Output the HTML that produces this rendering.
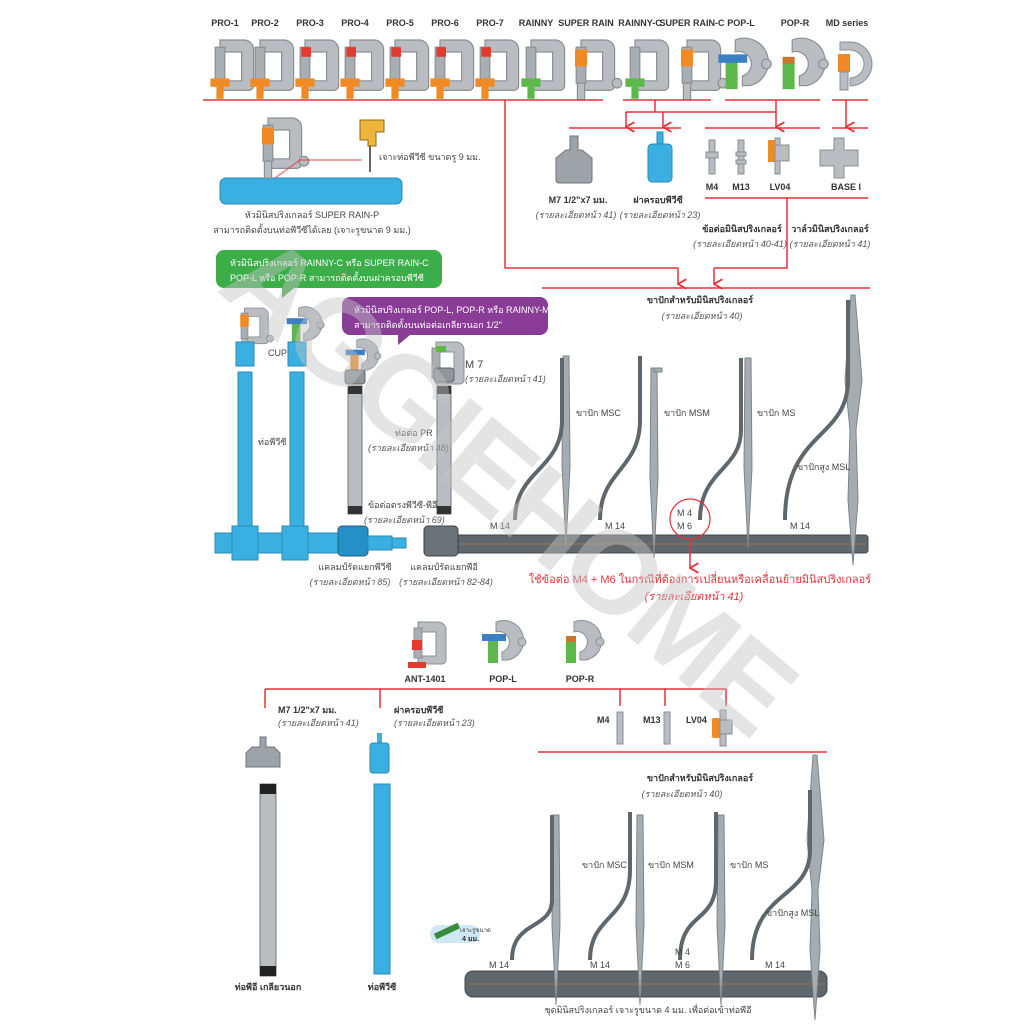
<!DOCTYPE html>
<html><head><meta charset="utf-8"><style>
html,body{margin:0;padding:0;background:#fff}
svg{display:block}
text{font-family:"Liberation Sans","Noto Sans CJK SC",sans-serif}
.l{font-size:9px;font-weight:bold;fill:#333}
.t{font-size:9px;fill:#444}
.i{font-size:9px;fill:#555;font-style:italic}
.r{stroke:#e8313a;stroke-width:1.5;fill:none}
</style></head><body>
<svg width="1024" height="1024" viewBox="0 0 1024 1024" xmlns="http://www.w3.org/2000/svg">
<defs>
<g id="hd">
<path d="M-10,0 h20 a8,8 0 0 1 8,8 v30 a4,4 0 0 1 -4,4 h-24 v-8 h18 v-24 h-18 z" fill="#b9bdc1" stroke="#8b9094" stroke-width="1"/>
<rect x="-14" y="6" width="8" height="30" fill="#a9aeb2" stroke="#8b9094"/>
</g>
<g id="pro"><use href="#hd"/><rect x="-18" y="32" width="16" height="7" fill="#f08a24"/><rect x="-13" y="39" width="6" height="10" fill="#f08a24"/></g>
<g id="grn"><use href="#hd"/><rect x="-18" y="32" width="16" height="7" fill="#5cb84a"/><rect x="-13" y="39" width="6" height="10" fill="#5cb84a"/></g>
<g id="sr"><use href="#hd"/><circle cx="20" cy="36" r="4" fill="#b9bdc1" stroke="#8b9094"/><rect x="-15" y="8" width="10" height="14" fill="#f08a24"/><rect x="-13" y="36" width="6" height="14" fill="#b9bdc1" stroke="#8b9094"/></g>
<g id="pop"><path d="M-4,0 a20,20 0 1 1 12,38 h-6 v-8 a10,10 0 1 0 -6,-20 z" fill="#b9bdc1" stroke="#8b9094"/><circle cx="22" cy="20" r="4" fill="#b9bdc1" stroke="#8b9094"/><rect x="-12" y="17" width="10" height="24" fill="#5cb84a"/></g>
<marker id="ar" viewBox="0 0 10 10" refX="5" refY="9" markerWidth="8" markerHeight="8" orient="auto-start-reverse"><path d="M1,2 L5,9 L9,2" fill="none" stroke="#e8313a" stroke-width="1.5"/></marker>
<g id="stk"><polygon points="-3,0 3,0 4,110 0,190 -4,110" fill="#a6adb2" stroke="#7d858a" stroke-width="1"/></g>
</defs>

<!-- top labels -->
<g class="l" text-anchor="middle" font-size="8.5">
<text x="225" y="26">PRO-1</text><text x="265" y="26">PRO-2</text><text x="310" y="26">PRO-3</text><text x="355" y="26">PRO-4</text><text x="400" y="26">PRO-5</text><text x="445" y="26">PRO-6</text><text x="490" y="26">PRO-7</text><text x="536" y="26">RAINNY</text><text x="586" y="26">SUPER RAIN</text><text x="640" y="26">RAINNY-C</text><text x="692" y="26">SUPER RAIN-C</text><text x="741" y="26">POP-L</text><text x="795" y="26">POP-R</text><text x="847" y="26">MD series</text>
</g>
<!-- heads top row -->
<g>
<use href="#pro" transform="translate(232,40) scale(1.2)"/>
<g transform="translate(272,40) scale(1.2)"><use href="#pro"/></g>
<g transform="translate(317,40) scale(1.2)"><use href="#pro"/><rect x="-13" y="6" width="8" height="8" fill="#e23a2e"/></g>
<g transform="translate(362,40) scale(1.2)"><use href="#pro"/><rect x="-13" y="6" width="8" height="8" fill="#e23a2e"/></g>
<g transform="translate(407,40) scale(1.2)"><use href="#pro"/><rect x="-13" y="6" width="8" height="8" fill="#e23a2e"/></g>
<g transform="translate(452,40) scale(1.2)"><use href="#pro"/><rect x="-13" y="6" width="8" height="8" fill="#e23a2e"/></g>
<g transform="translate(497,40) scale(1.2)"><use href="#pro"/><rect x="-13" y="6" width="8" height="8" fill="#e23a2e"/></g>
<use href="#grn" transform="translate(543,40) scale(1.2)"/>
<use href="#sr" transform="translate(593,40) scale(1.2)"/>
<use href="#grn" transform="translate(647,40) scale(1.2)"/>
<use href="#sr" transform="translate(699,40) scale(1.2)"/>
<g transform="translate(740,40) scale(1.2)"><use href="#pop"/><rect x="-18" y="12" width="24" height="7" fill="#3b7fc4"/></g>
<g transform="translate(797,40) scale(1.2)"><use href="#pop"/><rect x="-12" y="14" width="10" height="6" fill="#c8772c"/></g>
<path d="M840,42 h10 a22,22 0 0 1 0,44 v-8 a14,14 0 0 0 0,-28 h-10 z" fill="#b9bdc1" stroke="#8b9094"/><rect x="838" y="54" width="12" height="18" fill="#f08a24"/><rect x="840" y="72" width="8" height="18" fill="#b9bdc1" stroke="#8b9094"/>
</g>

<!-- red connector lines top -->
<path class="r" d="M203,100 H603 M623,100 H711 M725,100 H820 M832,100 H868"/>
<path class="r" d="M505,100 V268 H678"/>
<path class="r" d="M678,268 V284" marker-end="url(#ar)"/>
<path class="r" d="M655,100 V112 M626,112 H776 M776,100 V112"/>
<path class="r" d="M626,112 V127" marker-end="url(#ar)"/><path class="r" d="M663,112 V127" marker-end="url(#ar)"/><path class="r" d="M776,112 V127" marker-end="url(#ar)"/>
<path class="r" d="M846,100 V127" marker-end="url(#ar)"/>
<path class="r" d="M569,128 H681 M705,128 H820 M832,128 H868 M705,198 H868 M542,288 H870"/>
<path class="r" d="M787,198 V268 H714"/><path class="r" d="M714,268 V284" marker-end="url(#ar)"/>

<!-- accessories top -->
<path d="M566,150 h4 v-14 h8 v14 h4 l10,8 v22 a3,3 0 0 1 -3,3 h-30 a3,3 0 0 1 -3,-3 v-22 z" fill="#9da3a8" stroke="#6e767b"/>
<rect x="657" y="132" width="6" height="14" fill="#3ab0e2" stroke="#2a8ab5"/><rect x="648" y="144" width="24" height="38" rx="4" fill="#3ab0e2" stroke="#2a8ab5"/>
<rect x="709" y="140" width="6" height="34" fill="#b9bdc1" stroke="#8b9094"/><rect x="706" y="152" width="12" height="6" fill="#b9bdc1" stroke="#8b9094"/>
<rect x="738" y="140" width="6" height="34" fill="#b9bdc1" stroke="#8b9094"/><rect x="736" y="152" width="10" height="4" fill="#b9bdc1" stroke="#8b9094"/><rect x="736" y="160" width="10" height="4" fill="#b9bdc1" stroke="#8b9094"/>
<rect x="768" y="140" width="8" height="22" fill="#f08a24"/><rect x="775" y="138" width="5" height="36" fill="#b9bdc1" stroke="#8b9094"/><rect x="775" y="145" width="14" height="16" fill="#b9bdc1" stroke="#8b9094"/>
<path d="M820,150 h14 v-12 h10 v12 h14 v16 h-14 v12 h-10 v-12 h-14 z" fill="#b9bdc1" stroke="#8b9094"/>
<text class="l" x="578" y="203" text-anchor="middle">M7 1/2"x7 มม.</text><text class="i" x="576" y="218" text-anchor="middle">(รายละเอียดหน้า 41)</text>
<text class="l" x="658" y="203" text-anchor="middle">ฝาครอบพีวีซี</text><text class="i" x="660" y="218" text-anchor="middle">(รายละเอียดหน้า 23)</text>
<text class="l" x="712" y="190" text-anchor="middle">M4</text><text class="l" x="741" y="190" text-anchor="middle">M13</text><text class="l" x="780" y="190" text-anchor="middle">LV04</text><text class="l" x="846" y="190" text-anchor="middle">BASE I</text>
<text class="l" x="742" y="232" text-anchor="middle">ข้อต่อมินิสปริงเกลอร์</text><text class="i" x="740" y="247" text-anchor="middle">(รายละเอียดหน้า 40-41)</text>
<text class="l" x="830" y="232" text-anchor="middle">วาล์วมินิสปริงเกลอร์</text><text class="i" x="830" y="247" text-anchor="middle">(รายละเอียดหน้า 41)</text>
<text class="l" x="700" y="303" text-anchor="middle">ขาปักสำหรับมินิสปริงเกลอร์</text><text class="i" x="702" y="319" text-anchor="middle">(รายละเอียดหน้า 40)</text>

<!-- super rain-P with drill -->
<rect x="220" y="178" width="182" height="26" rx="6" fill="#3ab0e2" stroke="#2a8ab5"/>
<use href="#sr" transform="translate(280,118) scale(1.2)"/>
<path class="r" stroke-width="0.8" d="M275,178 L300,160 H362" stroke-opacity="0.6"/>
<path d="M360,120 h24 v12 h-8 v14 h-8 v-6 h-8 z" fill="#f0b43a" stroke="#8a6a1a"/><line x1="370" y1="146" x2="370" y2="172" stroke="#333" stroke-width="1.5"/>
<text class="t" x="379" y="160">เจาะท่อพีวีซี ขนาดรู 9 มม.</text>
<text class="t" x="312" y="218" text-anchor="middle">หัวมินิสปริงเกลอร์ SUPER RAIN-P</text>
<text class="t" x="312" y="233" text-anchor="middle">สามารถติดตั้งบนท่อพีวีซีได้เลย (เจาะรูขนาด 9 มม.)</text>

<!-- bubbles -->
<path d="M224,250 h210 a8,8 0 0 1 8,8 v22 a8,8 0 0 1 -8,8 h-140 l-12,10 v-10 h-58 a8,8 0 0 1 -8,-8 v-22 a8,8 0 0 1 8,-8 z" fill="#3bae4a"/>
<text x="230" y="266" font-size="9" fill="#fff">หัวมินิสปริงเกลอร์ RAINNY-C หรือ SUPER RAIN-C</text>
<text x="230" y="281" font-size="9" fill="#fff">POP-L หรือ POP-R สามารถติดตั้งบนฝาครอบพีวีซี</text>
<path d="M350,297 h190 a8,8 0 0 1 8,8 v22 a8,8 0 0 1 -8,8 h-130 l-12,10 v-10 h-48 a8,8 0 0 1 -8,-8 v-22 a8,8 0 0 1 8,-8 z" fill="#8a3d97"/>
<text x="354" y="313" font-size="9" fill="#fff">หัวมินิสปริงเกลอร์ POP-L, POP-R หรือ RAINNY-M</text>
<text x="354" y="328" font-size="9" fill="#fff">สามารถติดตั้งบนท่อต่อเกลียวนอก 1/2"</text>

<!-- middle left assembly -->
<use href="#sr" transform="translate(253,308) scale(0.85)"/>
<g transform="translate(302,308) scale(0.85)"><use href="#pop"/><rect x="-18" y="12" width="24" height="7" fill="#3b7fc4"/></g>
<rect x="236" y="342" width="18" height="24" fill="#3ab0e2" stroke="#2a8ab5"/><rect x="288" y="342" width="18" height="24" fill="#3ab0e2" stroke="#2a8ab5"/>
<text class="t" x="268" y="356" font-size="7">CUP</text>
<rect x="238" y="372" width="14" height="156" fill="#3ab0e2" stroke="#2a8ab5"/><rect x="290" y="372" width="14" height="156" fill="#3ab0e2" stroke="#2a8ab5"/>
<text class="t" x="258" y="445" font-size="7">ท่อพีวีซี</text>
<rect x="215" y="533" width="130" height="20" fill="#3ab0e2" stroke="#2a8ab5"/>
<rect x="232" y="526" width="26" height="34" fill="#3ab0e2" stroke="#2a8ab5"/><rect x="282" y="526" width="26" height="34" fill="#3ab0e2" stroke="#2a8ab5"/>
<rect x="338" y="526" width="30" height="30" rx="4" fill="#2590c8" stroke="#1d5f85"/>
<rect x="368" y="536" width="24" height="14" fill="#3ab0e2" stroke="#2a8ab5"/><rect x="392" y="538" width="14" height="10" fill="#3ab0e2" stroke="#2a8ab5"/>
<!-- PR pipes -->
<g transform="translate(360,340) scale(0.8)"><use href="#pop"/><rect x="-18" y="12" width="24" height="7" fill="#3b7fc4"/><rect x="-12" y="19" width="10" height="22" fill="#f08a24"/></g>
<rect x="345" y="370" width="20" height="14" rx="3" fill="#8f969b" stroke="#5f666b"/>
<rect x="348" y="386" width="14" height="128" fill="#b9bdc1" stroke="#6e767b"/><rect x="348" y="386" width="14" height="8" fill="#333"/><rect x="348" y="506" width="14" height="8" fill="#333"/>
<use href="#hd" x="446" y="342"/><rect x="436" y="346" width="10" height="6" fill="#5cb84a"/>
<rect x="434" y="368" width="20" height="14" rx="3" fill="#8f969b" stroke="#5f666b"/>
<rect x="437" y="386" width="14" height="128" fill="#b9bdc1" stroke="#6e767b"/><rect x="437" y="386" width="14" height="8" fill="#333"/><rect x="437" y="506" width="14" height="8" fill="#333"/>
<text x="465" y="368" font-size="11" fill="#444">M 7</text><text class="i" x="465" y="382">(รายละเอียดหน้า 41)</text>
<text class="t" x="395" y="436">ท่อต่อ PR</text><text class="i" x="368" y="451">(รายละเอียดหน้า 48)</text>
<text class="t" x="368" y="508">ข้อต่อตรงพีวีซี-พีอี</text><text class="i" x="364" y="523">(รายละเอียดหน้า 69)</text>
<!-- dark pipe middle -->
<rect x="425" y="535" width="443" height="18" rx="3" fill="#5f676c" stroke="#41484c"/>
<line x1="440" y1="544" x2="866" y2="544" stroke="#b27845" stroke-width="0.8"/>
<rect x="424" y="526" width="34" height="30" rx="4" fill="#6b7378" stroke="#3a4145"/>
<text class="t" x="355" y="570" text-anchor="middle">แคลมป์รัดแยกพีวีซี</text><text class="i" x="350" y="585" text-anchor="middle">(รายละเอียดหน้า 85)</text>
<text class="t" x="444" y="570" text-anchor="middle">แคลมป์รัดแยกพีอี</text><text class="i" x="446" y="585" text-anchor="middle">(รายละเอียดหน้า 82-84)</text>
<!-- stakes middle -->
<use href="#stk" x="566" y="356"/><path d="M562,358 V420 C562,470 515,470 515,520" stroke="#5f676c" stroke-width="4" fill="none"/>
<use href="#stk" x="654" y="368"/><path d="M640,356 V420 C640,470 600,470 600,520" stroke="#5f676c" stroke-width="4" fill="none"/><rect x="654" y="368" width="8" height="4" fill="#a6adb2" stroke="#7d858a"/>
<use href="#stk" x="748" y="358"/><path d="M741,358 V430 C741,470 700,470 700,520" stroke="#5f676c" stroke-width="4" fill="none"/>
<polygon points="851,295 855,295 862,380 856,430 858,500 853,565 848,500 850,430 845,380" fill="#a6adb2" stroke="#7d858a"/>
<path d="M848,300 V380 C848,440 785,430 785,520" stroke="#5f676c" stroke-width="4" fill="none"/>
<text class="t" x="576" y="416" font-size="7">ขาปัก MSC</text><text class="t" x="664" y="416" font-size="7">ขาปัก MSM</text><text class="t" x="757" y="416" font-size="7">ขาปัก MS</text><text class="t" x="797" y="470" font-size="7">ขาปักสูง MSL</text>
<text class="t" x="490" y="529" font-size="7">M 14</text><text class="t" x="605" y="529" font-size="7">M 14</text><text class="t" x="790" y="529" font-size="7">M 14</text>
<text class="t" x="677" y="516" font-size="7">M 4</text><text class="t" x="677" y="529" font-size="7">M 6</text>
<circle cx="690" cy="519" r="20" fill="none" stroke="#e8313a" stroke-width="1.2"/>
<path class="r" d="M690,539 V568" marker-end="url(#ar)"/>
<text x="700" y="583" font-size="11" fill="#e8313a" text-anchor="middle">ใช้ข้อต่อ M4 + M6 ในกรณีที่ต้องการเปลี่ยนหรือเคลื่อนย้ายมินิสปริงเกลอร์</text>
<text x="694" y="600" font-size="11" fill="#e8313a" font-style="italic" text-anchor="middle">(รายละเอียดหน้า 41)</text>

<!-- lower heads -->
<use href="#hd" x="428" y="622"/><rect x="412" y="640" width="10" height="10" fill="#e23a2e"/><rect x="408" y="662" width="18" height="6" fill="#e23a2e"/>
<g transform="translate(500,622)"><use href="#pop"/><rect x="-18" y="12" width="24" height="7" fill="#3b7fc4"/></g>
<g transform="translate(578,622)"><use href="#pop"/><rect x="-12" y="14" width="10" height="6" fill="#c8772c"/></g>
<text class="l" x="425" y="682" text-anchor="middle" font-size="7">ANT-1401</text><text class="l" x="503" y="682" text-anchor="middle" font-size="7">POP-L</text><text class="l" x="580" y="682" text-anchor="middle" font-size="7">POP-R</text>
<path class="r" d="M265,689 H726 M265,689 V708 M380,689 V708 M620,689 V706 M665,689 V706 M726,689 V706 M538,752 H827"/>
<text class="l" x="278" y="713" font-size="10">M7 1/2"x7 มม.</text><text class="i" x="278" y="726">(รายละเอียดหน้า 41)</text>
<text class="l" x="394" y="713" font-size="10">ฝาครอบพีวีซี</text><text class="i" x="394" y="726">(รายละเอียดหน้า 23)</text>
<text class="l" x="597" y="723">M4</text><text class="l" x="643" y="723">M13</text><text class="l" x="686" y="723">LV04</text>
<rect x="617" y="712" width="6" height="32" fill="#b9bdc1" stroke="#8b9094"/><rect x="664" y="712" width="6" height="32" fill="#b9bdc1" stroke="#8b9094"/>
<rect x="712" y="718" width="8" height="20" rx="2" fill="#f08a24"/><rect x="720" y="710" width="6" height="36" fill="#b9bdc1" stroke="#8b9094"/><rect x="720" y="720" width="12" height="14" fill="#b9bdc1" stroke="#8b9094"/>
<path d="M252,747 h8 v-10 h6 v10 h8 l6,6 v14 h-34 v-14 z" fill="#9da3a8" stroke="#6e767b"/>
<rect x="377" y="733" width="5" height="10" fill="#3ab0e2"/><rect x="370" y="743" width="19" height="30" rx="3" fill="#3ab0e2" stroke="#2a8ab5"/>
<rect x="260" y="784" width="16" height="192" fill="#b9bdc1" stroke="#6e767b"/><rect x="260" y="784" width="16" height="10" fill="#222"/><rect x="260" y="966" width="16" height="10" fill="#222"/>
<rect x="374" y="784" width="16" height="190" fill="#3ab0e2" stroke="#2a8ab5"/>
<text class="l" x="268" y="990" text-anchor="middle">ท่อพีอี เกลียวนอก</text><text class="l" x="382" y="990" text-anchor="middle">ท่อพีวีซี</text>
<text class="l" x="700" y="781" text-anchor="middle">ขาปักสำหรับมินิสปริงเกลอร์</text><text class="i" x="682" y="797" text-anchor="middle">(รายละเอียดหน้า 40)</text>
<!-- lower pipe & stakes -->
<rect x="465" y="971" width="362" height="26" rx="8" fill="#5f676c" stroke="#41484c"/>
<line x1="470" y1="984" x2="825" y2="984" stroke="#b27845" stroke-width="0.8"/>
<use href="#stk" x="556" y="815"/><path d="M552,815 V900 C552,930 512,920 512,960" stroke="#5f676c" stroke-width="4" fill="none"/>
<use href="#stk" x="640" y="815"/><path d="M630,812 V870 C630,920 590,915 590,960" stroke="#5f676c" stroke-width="4" fill="none"/>
<use href="#stk" x="721" y="815"/><path d="M716,812 V880 C716,925 680,910 680,960" stroke="#5f676c" stroke-width="4" fill="none"/>
<polygon points="813,755 817,755 824,840 818,890 820,950 815,1020 810,950 812,890 807,840" fill="#a6adb2" stroke="#7d858a"/>
<path d="M810,790 V850 C810,900 752,890 752,960" stroke="#5f676c" stroke-width="4" fill="none"/>
<text class="t" x="582" y="868" font-size="7">ขาปัก MSC</text><text class="t" x="648" y="868" font-size="7">ขาปัก MSM</text><text class="t" x="730" y="868" font-size="7">ขาปัก MS</text><text class="t" x="766" y="916" font-size="7">ขาปักสูง MSL</text>
<text class="t" x="489" y="968" font-size="7">M 14</text><text class="t" x="590" y="968" font-size="7">M 14</text><text class="t" x="675" y="955" font-size="7">M 4</text><text class="t" x="675" y="968" font-size="7">M 6</text><text class="t" x="765" y="968" font-size="7">M 14</text>
<rect x="430" y="925" width="50" height="18" rx="9" fill="#cfe8f6"/><rect x="434" y="928" width="26" height="6" fill="#3c8a3c" transform="rotate(-25 447 931)"/>
<text x="460" y="932" font-size="6" fill="#333">เจาะรูขนาด</text><text x="462" y="941" font-size="7" font-weight="bold" fill="#333">4 มม.</text>
<text class="t" x="648" y="1013" text-anchor="middle">ชุดมินิสปริงเกลอร์ เจาะรูขนาด 4 มม. เพื่อต่อเข้าท่อพีอี</text>

<!-- watermark -->
<text x="0" y="0" font-size="118" font-weight="bold" fill="#c4c4c4" fill-opacity="0.45" letter-spacing="-4" transform="translate(215,290) rotate(40)" style="font-family:'Liberation Sans',sans-serif">AGGIEHOME</text>
</svg>
</body></html>
